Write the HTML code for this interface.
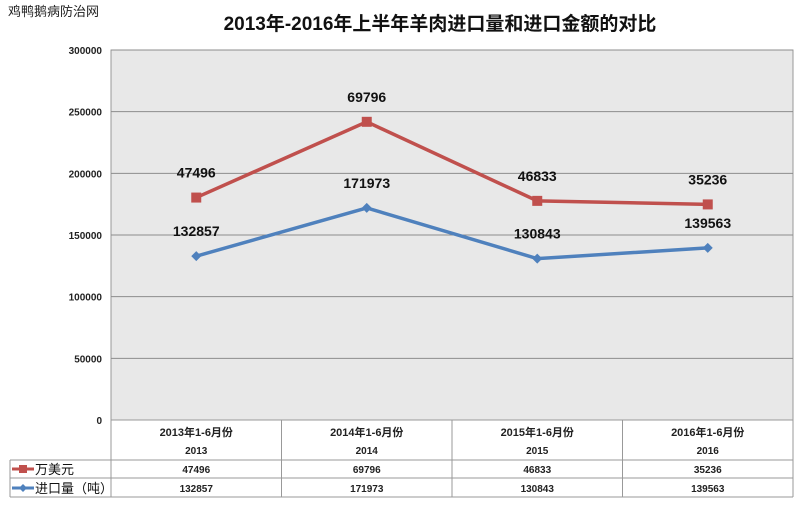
<!DOCTYPE html>
<html><head><meta charset="utf-8"><style>
body{margin:0;background:#fff;}
svg text{font-family:"Liberation Sans","Noto Sans CJK SC",sans-serif;}
</style></head><body>
<svg width="800" height="508" viewBox="0 0 800 508" id="chart">
<rect width="800" height="508" fill="#fff"/>
<text x="8" y="16" font-size="13" fill="#222">鸡鸭鹅病防治网</text>
<text x="440" y="30" font-size="19" font-weight="bold" text-anchor="middle" fill="#111">2013年-2016年上半年羊肉进口量和进口金额的对比</text>
<rect x="111" y="50" width="682" height="370" fill="#e8e8e8" stroke="#999"/>
<g id="grid"></g><g id="yticks"></g><g id="table"></g><g id="series"></g>
</svg>
<script>
const categories=["2013年1-6月份","2014年1-6月份","2015年1-6月份","2016年1-6月份"];
const years=["2013","2014","2015","2016"];
const usdValues=[47496,69796,46833,35236];
const tonValues=[132857,171973,130843,139563];
const yTicks=[0,50000,100000,150000,200000,250000,300000];
const NS="http://www.w3.org/2000/svg";
const X0=111,W=682,Y0=420,H=370,YMAX=300000;
const colW=W/categories.length;
const xs=i=>X0+colW*(i+0.5);
const ys=v=>Y0-v/YMAX*H;
function mk(t,a,p){const e=document.createElementNS(NS,t);for(const k in a)e.setAttribute(k,a[k]);(p||document.getElementById('chart')).appendChild(e);return e;}
const grid=document.getElementById('grid'),yt=document.getElementById('yticks'),tb=document.getElementById('table'),se=document.getElementById('series');
yTicks.forEach(v=>{
 if(v>0){const l=mk('line',{x1:X0,x2:X0+W,y1:ys(v),y2:ys(v),stroke:'#8c8c8c','stroke-width':1},grid);
 
 }
 const t=mk('text',{x:102,y:ys(v)+4,'font-size':10,'font-weight':'bold','text-anchor':'end',fill:'#222'},yt);t.textContent=v;
 
 
});
// table
const lines=[[X0,420,X0,497],[10,460,X0+W,460],[10,478,X0+W,478],[10,497,X0+W,497],[10,460,10,497],[X0+W,420,X0+W,497]];
for(let i=1;i<categories.length;i++)lines.push([X0+colW*i,420,X0+colW*i,497]);
lines.forEach(a=>{const l=mk('line',{x1:a[0],y1:a[1],x2:a[2],y2:a[3],stroke:'#999'},tb);
 
 });
categories.forEach((c,i)=>{
 let t=mk('text',{x:xs(i),y:436,'font-size':11,'font-weight':'bold','text-anchor':'middle',fill:'#222'},tb);t.textContent=c;
 
 
 t=mk('text',{x:xs(i),y:454,'font-size':10,'font-weight':'bold','text-anchor':'middle',fill:'#222'},tb);t.textContent=years[i];
 
 
 t=mk('text',{x:xs(i),y:473,'font-size':10,'font-weight':'bold','text-anchor':'middle',fill:'#222'},tb);t.textContent=usdValues[i];
 
 
 t=mk('text',{x:xs(i),y:492,'font-size':10,'font-weight':'bold','text-anchor':'middle',fill:'#222'},tb);t.textContent=tonValues[i];
 
 
});
[['万美元','#c0504d','rect',469],['进口量（吨）','#4f81bd','diamond',488]].forEach(r=>{
 const g=mk('g',{},tb);
 
 
 mk('line',{x1:12,x2:34,y1:r[3],y2:r[3],stroke:r[1],'stroke-width':3},g);
 if(r[2]=='rect')mk('rect',{x:19,y:r[3]-4,width:8,height:8,fill:r[1]},g);
 else mk('path',{d:`M23 ${r[3]-4}l4 4l-4 4l-4 -4z`,fill:r[1]},g);
 const t=mk('text',{x:35,y:r[3]+5,'font-size':13,fill:'#111'},g);t.textContent=r[0];
});
// series: red is stacked on blue
function draw(vals,base,color,marker,name,labelOff){
 const pts=vals.map((v,i)=>[xs(i),ys(v+(base?base[i]:0))]);
 const p=mk('polyline',{points:pts.map(p=>p.join(',')).join(' '),fill:'none',stroke:color,'stroke-width':3.5},se);
 
 
 pts.forEach((q,i)=>{
  let m;
  if(marker=='rect')m=mk('rect',{x:q[0]-5,y:q[1]-5,width:10,height:10,fill:color},se);
  else m=mk('path',{d:`M${q[0]} ${q[1]-5}l5 5l-5 5l-5 -5z`,fill:color},se);
  
  
  const t=mk('text',{x:q[0],y:q[1]-labelOff,'font-size':14,'font-weight':'bold','text-anchor':'middle',fill:'#111'},se);t.textContent=vals[i];
  
  
 });
}
draw(tonValues,null,'#4f81bd','diamond','ton-series',20);
draw(usdValues,tonValues,'#c0504d','rect','usd-series',20);
</script>
</body></html>
